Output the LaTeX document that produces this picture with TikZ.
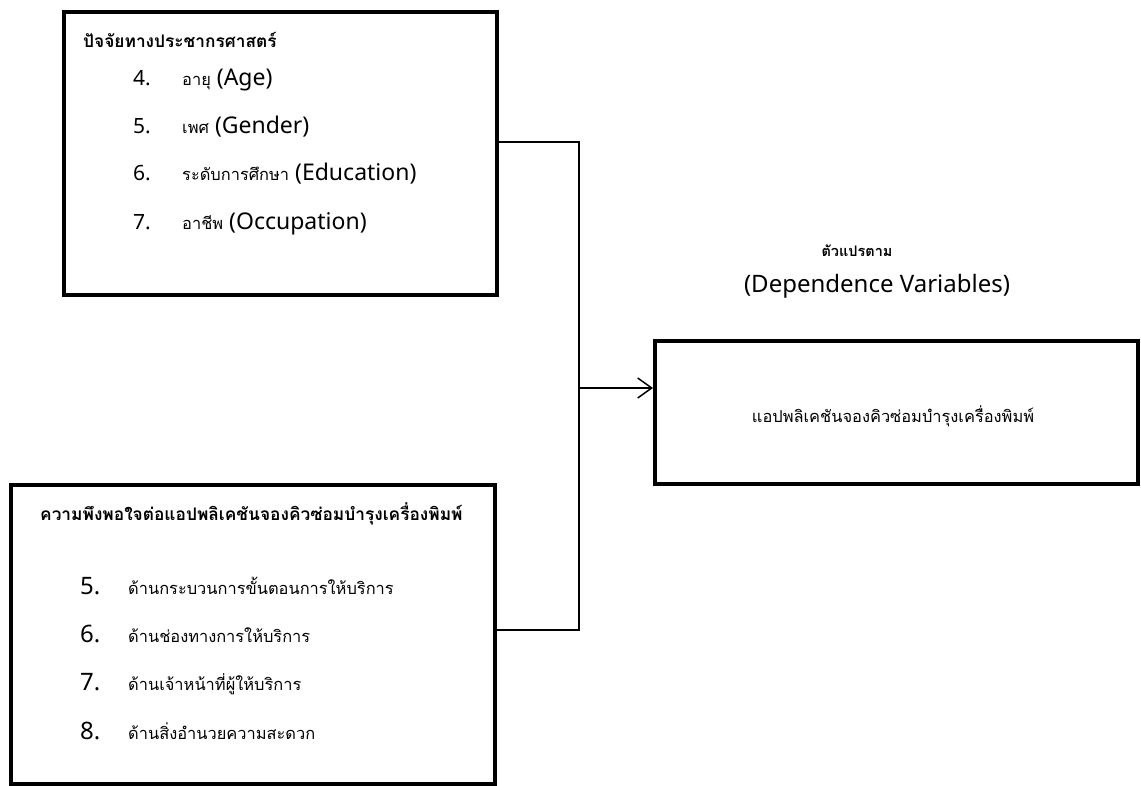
\documentclass[tikz,border=0pt]{standalone}
\usepackage{fontspec}
\setmainfont{Noto Sans}
\newfontfamily\thai[Script=Thai]{Loma}
\usetikzlibrary{positioning,arrows.meta}

\newcommand\thaiitem{\thai\fontsize{16.4}{20}\selectfont}

\tikzset{
	frame/.style={draw, line width=3.5pt, anchor=north west, inner sep=0pt},
	num/.style={anchor=base west, inner sep=0pt, font=\fontsize{21}{24}\selectfont},
	bignum/.style={anchor=base west, inner sep=0pt, font=\fontsize{24}{28}\selectfont},
	item/.style={anchor=base west, inner sep=0pt, font=\fontsize{23}{26}\selectfont},
	thaitext/.style={anchor=base west, inner sep=0pt, font=\thaiitem},
	title/.style={anchor=base west, inner sep=0pt, font=\fontsize{17.3}{20}\selectfont\thai\bfseries},
}

\begin{document}
\begin{tikzpicture}[x=1pt, y=-1pt]

\useasboundingbox (0,0) rectangle (1141,785);

\newcommand\jX{579};

% Demographic factors
\node [frame,
	minimum width=433pt,
	minimum height=283pt
] (demographic) at (62, 10) {};
\node [title] (demographic_title) at (83, 47) {ปัจจัยทางประชากรศาสตร์};
\node [num] (age_no) at (133, 85) {4.};
\node [item] (age) at (182, 85) {{\thaiitem อายุ} (Age)};
\node [num] (gender_no) at (133, 133) {5.};
\node [item] (gender) at (182, 133) {{\thaiitem เพศ} (Gender)};
\node [num] (education_no) at (133, 180) {6.};
\node [item] (education) at (182, 180) {{\thaiitem ระดับการศึกษา} (Education)};
\node [num] (occupation_no) at (133, 229) {7.};
\node [item] (occupation) at (182, 229) {{\thaiitem อาชีพ} (Occupation)};

% Satisfaction
\node [frame,
	minimum width=484pt,
	minimum height=299pt
] (satisfaction) at (9, 483) {};
\node [title] (satisfaction_title) at (40, 520) {ความพึงพอใจต่อแอปพลิเคชันจองคิวซ่อมบำรุงเครื่องพิมพ์};
\node [bignum] (process_no) at (80, 594) {5.};
\node [thaitext] (process) at (128, 594) {ด้านกระบวนการขั้นตอนการให้บริการ};
\node [bignum] (channel_no) at (80, 642) {6.};
\node [thaitext] (channel) at (128, 642) {ด้านช่องทางการให้บริการ};
\node [bignum] (staff_no) at (80, 690) {7.};
\node [thaitext] (staff) at (128, 690) {ด้านเจ้าหน้าที่ผู้ให้บริการ};
\node [bignum] (facility_no) at (80, 739) {8.};
\node [thaitext] (facility) at (128, 739) {ด้านสิ่งอำนวยความสะดวก};

% Dependent variable
\node [anchor=base, inner sep=0pt, font=\fontsize{14.5}{17}\selectfont\thai\bfseries] (dependent_title) at (857, 256) {ตัวแปรตาม};
\node [anchor=base, inner sep=0pt, font=\fontsize{24}{28}\selectfont] (dependent_subtitle) at (877, 292) {(Dependence Variables)};
\node [frame,
	minimum width=483pt,
	minimum height=143pt
] (application) at (653, 339) {};
\node [anchor=base, inner sep=0pt, font=\thaiitem] (application_label) at (893, 422) {แอปพลิเคชันจองคิวซ่อมบำรุงเครื่องพิมพ์};

% Connectors
\coordinate (join_top) at (\jX, 142);
\coordinate (join_mid) at (\jX, 388);
\coordinate (join_bottom) at (\jX, 630);

\draw[line width=1.5pt] (demographic.east |- join_top) -- (join_top) -- (join_bottom) -- (satisfaction.east |- join_bottom);
\draw[line width=1.5pt, -{Straight Barb[length=14pt, width=20pt]}] (join_mid) -- (application.west |- join_mid);

\end{tikzpicture}
\end{document}
